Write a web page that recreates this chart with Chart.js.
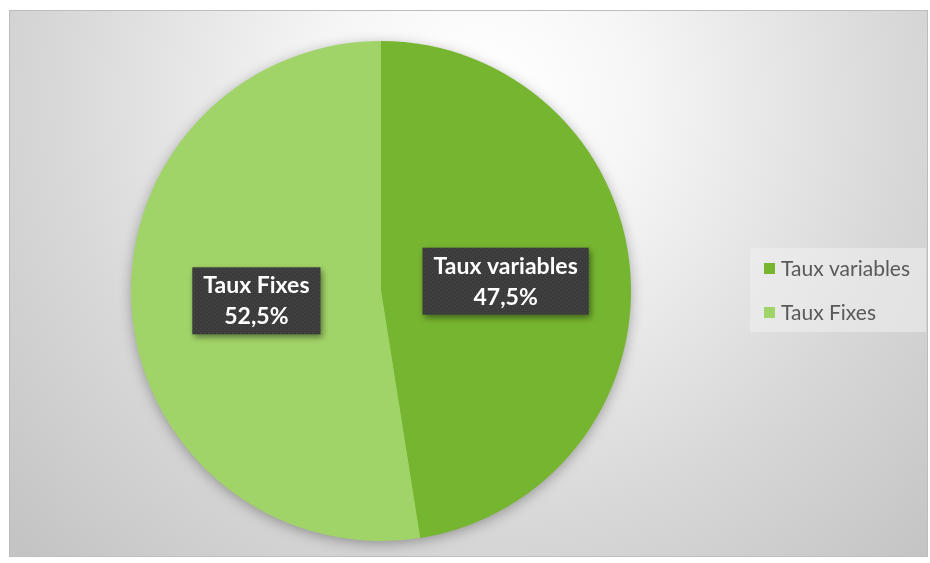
<!DOCTYPE html>
<html>
<head>
<meta charset="utf-8">
<script src="https://cdn.jsdelivr.net/npm/chart.js@4.4.0/dist/chart.umd.min.js"></script>
<style>
  html, body { margin: 0; padding: 0; background: #fff; }
  #wrap { position: relative; width: 930px; height: 563px; }
</style>
</head>
<body>
<div id="wrap"><canvas id="mychart" width="930" height="563"></canvas></div>
<script>
// data
var labels = ['Taux variables', 'Taux Fixes'];
var values = [47.5, 52.5];
var valueLabels = ['47,5%', '52,5%'];
var colorbox = ['#76b530', '#a1d468'];

// frame + radial grey background
var backgroundPlugin = {
    id: 'bg',
    beforeDraw: function (chart) {
        var ctx = chart.ctx;
        ctx.save();
        var g = ctx.createRadialGradient(480, 100, 20, 480, 100, 640);
        g.addColorStop(0, '#ffffff');
        g.addColorStop(0.22, '#f6f6f6');
        g.addColorStop(0.65, '#d8d8d8');
        g.addColorStop(1, '#c4c4c4');
        ctx.fillStyle = g;
        ctx.fillRect(9, 10, 919, 547);
        ctx.strokeStyle = '#bdbdbd';
        ctx.lineWidth = 1;
        ctx.strokeRect(9.5, 10.5, 918, 546);
        ctx.restore();
    },
    beforeDatasetsDraw: function (chart) {
        // soft shadow under the pie
        var arc = chart.getDatasetMeta(0).data[0];
        if (!arc) return;
        var ctx = chart.ctx;
        ctx.save();
        ctx.shadowColor = 'rgba(0,0,0,0.35)';
        ctx.shadowBlur = 14;
        ctx.shadowOffsetY = 3;
        ctx.beginPath();
        ctx.arc(arc.x, arc.y, arc.outerRadius - 1, 0, Math.PI * 2);
        ctx.fillStyle = '#a1d468';
        ctx.fill();
        ctx.restore();
    }
};

function dotPattern(ctx) {
    var c = document.createElement('canvas');
    c.width = 4; c.height = 4;
    var p = c.getContext('2d');
    p.fillStyle = '#3b3b3b';
    p.fillRect(0, 0, 4, 4);
    p.fillStyle = '#4a4a4a';
    p.fillRect(0, 0, 1, 1);
    p.fillRect(2, 2, 1, 1);
    return ctx.createPattern(c, 'repeat');
}

// dark label boxes on slices + legend on the right
var labelPlugin = {
    id: 'boxlabels',
    afterDatasetsDraw: function (chart) {
        var ctx = chart.ctx;
        var meta = chart.getDatasetMeta(0);
        ctx.save();
        ctx.font = 'bold 23px Lato, "Open Sans", sans-serif';
        meta.data.forEach(function (arc, i) {
            var pt = arc.getCenterPoint();
            var l1 = labels[i], l2 = valueLabels[i];
            var w = Math.max(ctx.measureText(l1).width, ctx.measureText(l2).width) + 22;
            var h = 67;
            var x = pt.x - w / 2, y = pt.y - h / 2;
            ctx.save();
            ctx.shadowColor = 'rgba(0,0,0,0.45)';
            ctx.shadowBlur = 6;
            ctx.shadowOffsetX = 2;
            ctx.shadowOffsetY = 3;
            ctx.fillStyle = dotPattern(ctx);
            ctx.fillRect(x, y, w, h);
            ctx.restore();
            ctx.fillStyle = '#ffffff';
            ctx.textAlign = 'center';
            ctx.textBaseline = 'middle';
            ctx.fillText(l1, pt.x, pt.y - 15);
            ctx.fillText(l2, pt.x, pt.y + 16);
        });

        // legend
        ctx.fillStyle = 'rgba(240,240,240,0.55)';
        ctx.fillRect(750, 248, 176, 84);
        ctx.font = '21px Lato, "Open Sans", sans-serif';
        ctx.textAlign = 'left';
        ctx.textBaseline = 'middle';
        for (var i = 0; i < labels.length; i++) {
            var ly = 269 + i * 44;
            ctx.fillStyle = colorbox[i];
            ctx.fillRect(764, ly - 6, 11, 11);
            ctx.fillStyle = '#595959';
            ctx.fillText(labels[i], 781, ly);
        }
        ctx.restore();
    }
};

var ctx = document.getElementById('mychart').getContext('2d');
var mychart = new Chart(ctx, {
    type: 'pie',
    data: {
        labels: labels,
        datasets: [{
            data: values,
            backgroundColor: colorbox,
            borderWidth: 0
        }]
    },
    options: {
        responsive: false,
        animation: false,
        layout: { padding: { left: 131, right: 299, top: 41, bottom: 22 } },
        plugins: {
            legend: { display: false },
            tooltip: { enabled: false }
        }
    },
    plugins: [backgroundPlugin, labelPlugin]
});
</script>
</body>
</html>
